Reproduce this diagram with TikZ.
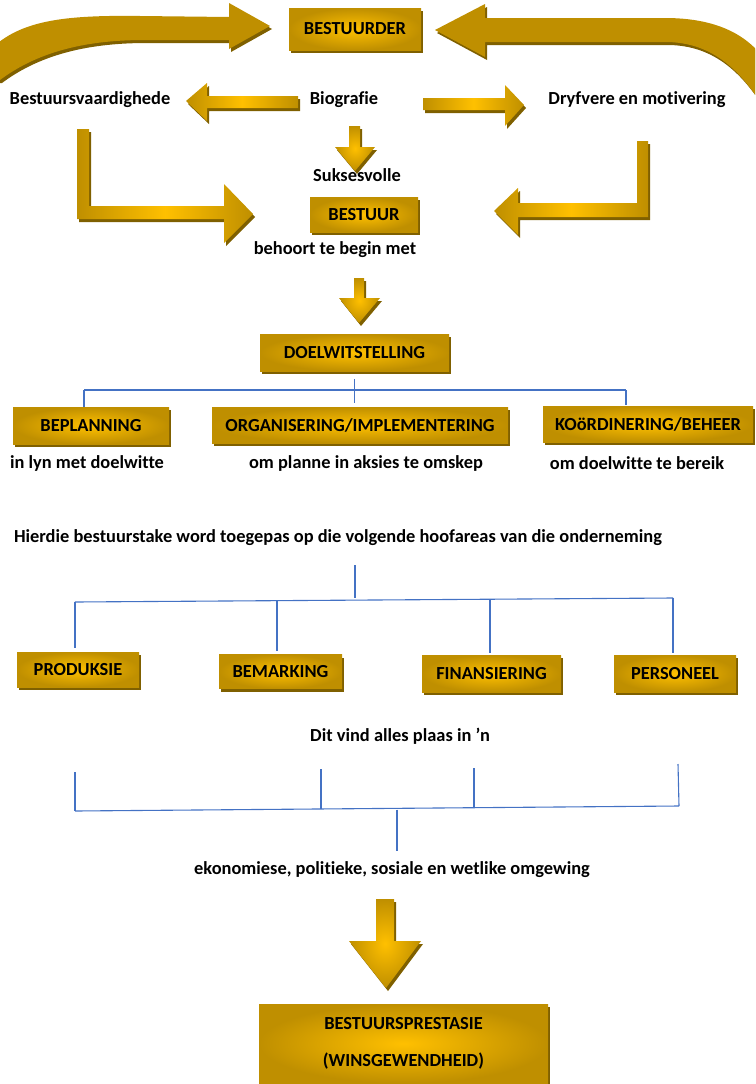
\documentclass[tikz,border=0pt]{standalone}
\usepackage{fontspec}
\setmainfont{Carlito}[Ligatures=CommonOff]
\usetikzlibrary{shadows}

\definecolor{gold}{HTML}{BF8F00}
\definecolor{goldlight}{HTML}{FFC000}
\definecolor{goldshadow}{HTML}{7F6000}
\definecolor{treeblue}{HTML}{4472C4}

\tikzset{
  goldshade/.style={drop shadow={shadow xshift=2pt, shadow yshift=-3pt, fill=goldshadow, opacity=1}},
  goldbox/.style={goldshade, inner color=goldlight, outer color=gold, inner sep=0pt},
  harrow/.style={goldshade, left color=gold, right color=gold, middle color=goldlight},
  varrow/.style={goldshade, inner color=goldlight, outer color=gold},
  bigcurve/.style={goldshade, fill=gold},
  plain/.style={inner sep=0pt},
  tree/.style={draw=treeblue, line width=1.1pt},
}

\begin{document}
\begin{tikzpicture}[x=1pt, y=-1pt, font=\fontsize{18.4}{21}\selectfont\bfseries]

        \useasboundingbox (0,0) rectangle (755,1084);
        \clip (0,0) rectangle (755,1084);

        % curved arrows at the top
        \path[bigcurve] (-10,50) .. controls (20,20) and (65,15) .. (140,16) -- (229,17) -- (229,3) -- (270,26)
                -- (229,49) -- (229,40) -- (145,40) .. controls (90,40) and (40,50) .. (0,80) -- (-10,80) -- cycle;
        \path[bigcurve] (435,30) -- (485,4) -- (485,18) -- (665,18) .. controls (712,18) and (752,32) .. (772,72)
                -- (772,110) -- (762,105) .. controls (735,62) and (705,42) .. (665,42) -- (485,42) -- (485,57) -- cycle;

        \node[goldbox, minimum width=132, minimum height=42] (bestuurder) at (355,29) {BESTUURDER};

        \node[plain] (vaardig) at (90,100) {Bestuursvaardighede};
        \node[plain] (bio) at (344,100) {Biografie};
        \node[plain] (dryf) at (637,100) {Dryfvere en motivering};

        \path[harrow] (298,96) -- (207,96) -- (207,83) -- (186,101) -- (207,121) -- (207,108) -- (298,108) -- cycle;
        \path[harrow] (423,98) -- (505,98) -- (505,85) -- (524,105) -- (505,126) -- (505,110) -- (423,110) -- cycle;
        \path[varrow] (349,126) -- (360,126) -- (360,147) -- (375,147) -- (355,171) -- (335,147) -- (349,147) -- cycle;

        % L shaped arrows
        \path[harrow] (77,129) -- (89,129) -- (89,206) -- (224,206) -- (224,184) -- (253,214) -- (224,243)
                -- (224,219) -- (77,219) -- cycle;
        \path[harrow] (637,141) -- (648,141) -- (648,217) -- (518,217) -- (518,235) -- (494,211) -- (518,188)
                -- (518,203) -- (637,203) -- cycle;

        \node[plain] (sukses) at (357,175) {Suksesvolle};
        \node[goldbox, minimum width=108, minimum height=35] (bestuur) at (364,214.5) {BESTUUR};
        \node[plain] (begin) at (335,250) {behoort te begin met};

        \path[varrow] (354,278) -- (364,278) -- (364,298) -- (380,298) -- (359,323) -- (339,298) -- (354,298) -- cycle;

        \node[goldbox, minimum width=189, minimum height=37] (doel) at (354.5,352.5) {DOELWITSTELLING};

        \node[goldbox, minimum width=156, minimum height=37] (plan) at (91,425.5) {BEPLANNING};
        \node[goldbox, minimum width=296, minimum height=36] (org) at (360,425) {ORGANISERING/IMPLEMENTERING};
        \node[goldbox, minimum width=210, minimum height=36] (koord) at (648,424) {KOöRDINERING/BEHEER};

        \coordinate (j1l) at (84,390);
        \coordinate (j1r) at (626,390);
        \draw[tree] (j1l) -- (j1r);
        \draw[tree] ([yshift=-8pt]doel.south) -- ([yshift=4pt]doel.south |- org.north);
        \draw[tree] (j1l) -- (j1l |- plan.north);
        \draw[tree] (j1r) -- ([yshift=1pt]j1r |- koord.north);

        \node[plain] (lyn) at (87,463) {in lyn met doelwitte};
        \node[plain] (aksies) at (366,463) {om planne in aksies te omskep};
        \node[plain] (bereik) at (637,463) {om doelwitte te bereik};

        \node[plain] (hierdie) at (338,538) {Hierdie bestuurstake word toegepas op die volgende hoofareas van die onderneming};

        \node[goldbox, minimum width=122, minimum height=35] (prod) at (78,669.5) {PRODUKSIE};
        \node[goldbox, minimum width=123, minimum height=34] (bem) at (280.5,671.5) {BEMARKING};
        \node[goldbox, minimum width=139, minimum height=37] (fin) at (491.5,673.5) {FINANSIERING};
        \node[goldbox, minimum width=122, minimum height=37] (pers) at (675,673.5) {PERSONEEL};

        \coordinate (j2) at (355,565);
        \coordinate (j2l) at (75,602);
        \coordinate (j2r) at (673,598);
        \draw[tree] (j2) -- ++(0,33);
        \draw[tree] (j2l) -- (j2r);
        \draw[tree] (j2l) -- ([yshift=4pt]j2l |- prod.north);
        \draw[tree] (277,601) -- ([yshift=3pt]277,0 |- bem.north);
        \draw[tree] (490,599.5) -- ([yshift=2pt]490,0 |- fin.north);
        \draw[tree] (j2r) -- ([yshift=2pt]j2r |- pers.north);

        \node[plain] (plaas) at (400,736) {Dit vind alles plaas in ’n};
        \node[plain] (omg) at (392,870) {ekonomiese, politieke, sosiale en wetlike omgewing};

        \coordinate (j3l) at (75,811);
        \coordinate (j3r) at (679,806);
        \draw[tree] (j3l) -- (j3r);
        \draw[tree] (j3l) -- ++(0,-39);
        \draw[tree] (321,809) -- (321,769);
        \draw[tree] (474,808) -- (474,768);
        \draw[tree] (j3r) -- (678,764);
        \draw[tree] (397,809.5) -- ([yshift=11pt]397,0 |- omg.north);

        \path[varrow] (376,899) -- (394,899) -- (394,941) -- (421,941) -- (386,988) -- (349,941) -- (376,941) -- cycle;

        \node[goldbox, minimum width=289, minimum height=79, align=center] (prestasie) at (403.5,1043.5)
                {BESTUURSPRESTASIE\\[16pt](WINSGEWENDHEID)};

      \end{tikzpicture}
\end{document}
